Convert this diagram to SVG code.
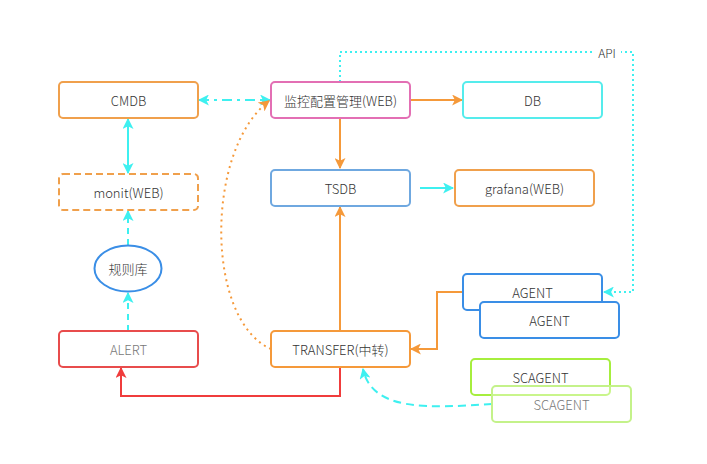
<svg xmlns="http://www.w3.org/2000/svg" width="707" height="464" viewBox="0 0 707 464">
<defs>
<marker id="ao" viewBox="0 0 10 10" refX="9" refY="5" markerWidth="11" markerHeight="11" markerUnits="userSpaceOnUse" orient="auto-start-reverse"><path d="M0,0 L10,5 L0,10 L2.5,5 z" fill="#f5993a"/></marker>
<marker id="ac" viewBox="0 0 10 10" refX="9" refY="5" markerWidth="11" markerHeight="11" markerUnits="userSpaceOnUse" orient="auto-start-reverse"><path d="M0,0 L10,5 L0,10 L2.5,5 z" fill="#3ef0f0"/></marker>
<marker id="ar" viewBox="0 0 10 10" refX="9" refY="5" markerWidth="11" markerHeight="11" markerUnits="userSpaceOnUse" orient="auto-start-reverse"><path d="M0,0 L10,5 L0,10 L2.5,5 z" fill="#f03c3c"/></marker>
</defs>
<style>
text{font-family:"Noto Sans CJK SC","Noto Sans",sans-serif;font-size:13px;font-weight:300;fill:#333;text-anchor:middle;dominant-baseline:central}
.n{fill:#fff;stroke-width:2}
.c{fill:none;stroke-width:2}
</style>
<rect width="707" height="464" fill="#fff"/>
<g id="connectors">
<path class="c" d="M340,82 V52 H633 V292 H604" stroke="#3ef0f0" stroke-dasharray="2,3" marker-end="url(#ac)"/>
<rect x="595" y="44" width="26" height="16" fill="#fff"/>
<text x="607" y="52" style="font-size:12px">API</text>
<path class="c" d="M199,100 H270" stroke="#3ef0f0" stroke-dasharray="10,5,3,5" marker-start="url(#ac)" marker-end="url(#ac)"/>
<path class="c" d="M128,119 V173" stroke="#3ef0f0" marker-start="url(#ac)" marker-end="url(#ac)"/>
<path class="c" d="M128,245 V211" stroke="#3ef0f0" stroke-dasharray="6,5" marker-end="url(#ac)"/>
<path class="c" d="M128,331 V293" stroke="#3ef0f0" stroke-dasharray="6,5" marker-end="url(#ac)"/>
<path class="c" d="M410,100 H462" stroke="#f5993a" marker-end="url(#ao)"/>
<path class="c" d="M340,118 V168" stroke="#f5993a" marker-end="url(#ao)"/>
<path class="c" d="M340,331 V207" stroke="#f5993a" marker-end="url(#ao)"/>
<path class="c" d="M420,188 H453" stroke="#3ef0f0" marker-end="url(#ac)"/>
<path class="c" d="M271,349 C205,320 205,150 269,101" stroke="#f5993a" stroke-dasharray="2,4" marker-end="url(#ao)"/>
<path class="c" d="M340,367 V396 H121 V368" stroke="#f03c3c" marker-end="url(#ar)"/>
<path class="c" d="M463,292 H437 V349 H411" stroke="#f5993a" marker-end="url(#ao)"/>
<path class="c" d="M492,404 C430,408 372,412 363,369" stroke="#3ef0f0" stroke-dasharray="8,5" marker-end="url(#ac)"/>
</g>
<g id="cmdb"><rect class="n" x="59" y="82" width="139" height="36" rx="4" stroke="#f0a04c"/><text x="128.5" y="100">CMDB</text></g>
<g id="config"><rect class="n" x="271" y="82" width="139" height="36" rx="4" stroke="#e36fb4"/><text x="340.5" y="100">监控配置管理(WEB)</text></g>
<g id="db"><rect class="n" x="463" y="82" width="139" height="36" rx="4" stroke="#55ecec"/><text x="532.5" y="100">DB</text></g>
<g id="monit"><rect class="n" x="59" y="174" width="139" height="36" rx="4" stroke="#f0a04c" stroke-dasharray="7,4"/><text x="128.5" y="192">monit(WEB)</text></g>
<g id="tsdb"><rect class="n" x="271" y="170" width="139" height="36" rx="4" stroke="#6fa8e0"/><text x="340.5" y="188">TSDB</text></g>
<g id="grafana"><rect class="n" x="455" y="170" width="139" height="36" rx="4" stroke="#f0a04c"/><text x="524.5" y="188">grafana(WEB)</text></g>
<g id="rules"><ellipse class="n" cx="128" cy="268.5" rx="33.5" ry="23" stroke="#3a8ee6"/><text x="128" y="268.5">规则库</text></g>
<g id="alert"><rect class="n" x="59" y="331" width="139" height="36" rx="4" stroke="#e84c4c"/><text x="128.5" y="349" style="fill:#777">ALERT</text></g>
<g id="transfer"><rect class="n" x="271" y="331" width="139" height="36" rx="4" stroke="#f5993a"/><text x="340.5" y="349">TRANSFER(中转)</text></g>
<g id="agent1"><rect class="n" x="463" y="274" width="139" height="36" rx="4" stroke="#3a8ee6"/><text x="532.5" y="292">AGENT</text></g>
<g id="agent2"><rect class="n" x="480" y="302" width="139" height="36" rx="4" stroke="#3a8ee6"/><text x="549.5" y="320">AGENT</text></g>
<g id="scagent1"><rect class="n" x="471" y="359" width="139" height="36" rx="4" stroke="#a6ee3e"/><text x="540.5" y="377">SCAGENT</text></g>
<g id="scagent2"><rect x="492" y="386" width="139" height="36" rx="4" fill="#fff" fill-opacity="0.4" stroke="#c4f28a" stroke-width="2"/><text x="561.5" y="404" style="fill:#777">SCAGENT</text></g>
</svg>
